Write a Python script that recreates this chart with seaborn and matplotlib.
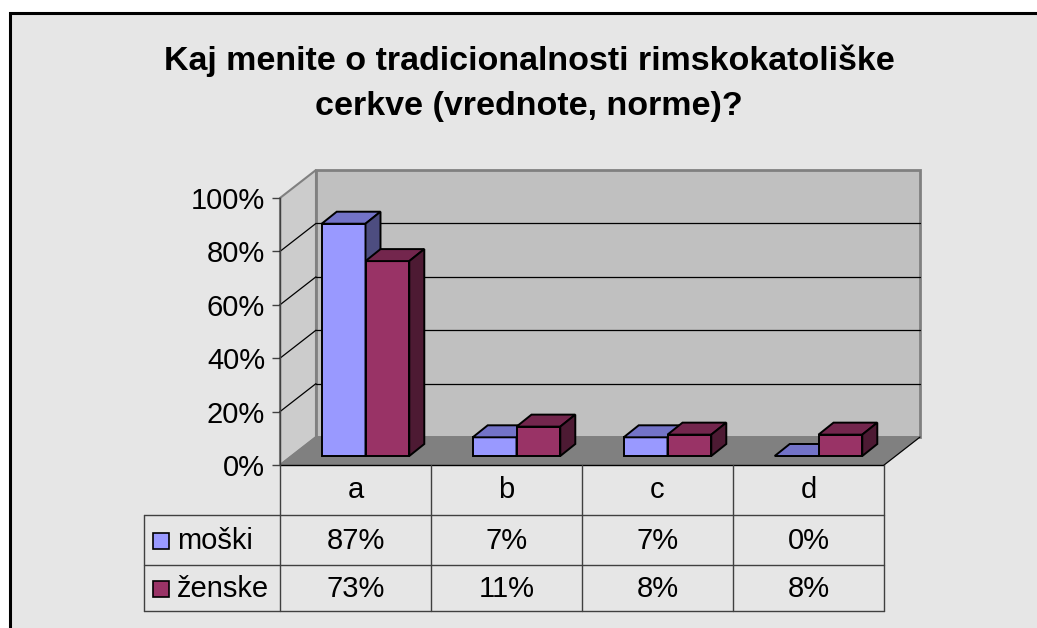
import numpy as np
import pandas as pd
import matplotlib
matplotlib.use("Agg")
import matplotlib.pyplot as plt
from matplotlib.patches import Rectangle, Polygon
import seaborn as sns

# podatki
odgovori = ["a", "b", "c", "d"]
spoli = ["moški", "ženske"]
moski = [87, 7, 7, 0]
zenske = [73, 11, 8, 8]

naslov1 = "Kaj menite o tradicionalnosti rimskokatoliške"
naslov2 = "cerkve (vrednote, norme)?"

# barve (sprednja, zgornja, stranska ploskev)
barve_spredaj = ["#9999ff", "#993366"]
barve_zgoraj = ["#7373c8", "#73264d"]
barve_stran = ["#4d4d80", "#4d1a33"]

df = pd.DataFrame({
    "odgovor": odgovori * 2,
    "spol": [spoli[0]] * 4 + [spoli[1]] * 4,
    "delez": [v / 100 for v in moski] + [v / 100 for v in zenske],
})

sns.set_style("white")
plt.rcParams["font.family"] = ["Liberation Sans", "DejaVu Sans"]
plt.rcParams["text.color"] = "black"
plt.rcParams["ytick.labelcolor"] = "black"

W, H = 1037, 628
fs = 21  # velikost besedila v tabeli in na osi
fig = plt.figure(figsize=(W / 100, H / 100), dpi=100, facecolor="white")

# okvir grafikona
fig.patches.append(Rectangle((10 / W, -0.1), 1.2, (H - 13) / H + 0.1,
                             transform=fig.transFigure, facecolor="#e6e6e6",
                             edgecolor="black", linewidth=2.2, zorder=-5))

fig.text(529 / W, 1 - 70 / H, naslov1, ha="center", va="baseline",
         fontsize=24.5, fontweight="bold", color="black")
fig.text(529 / W, 1 - 115 / H, naslov2, ha="center", va="baseline",
         fontsize=24.5, fontweight="bold", color="black")

# os v sprednji ravnini
ax_l, ax_r, ax_b, ax_t = 280, 884, 465, 198
ax = fig.add_axes([ax_l / W, 1 - ax_b / H, (ax_r - ax_l) / W, (ax_b - ax_t) / H])
ax.set_facecolor("none")

ux = 4 / (ax_r - ax_l)   # podatkovne enote na piksel
uy = 1 / (ax_b - ax_t)

sns.barplot(data=df, x="odgovor", y="delez", hue="spol", hue_order=spoli,
            palette=barve_spredaj, width=0.58, edgecolor="black",
            linewidth=1.4, saturation=1, legend=False, ax=ax)

ax.set_xlim(-0.5, 3.5)
ax.set_ylim(0, 1)

# globina
Dx, Dy = 36 * ux, 28 * uy        # cela globina
fdx, fdy = 10 * ux, 9 * uy       # sprednja stran stolpcev
ddx, ddy = 15 * ux, 12 * uy      # globina stolpcev

# stene in tla
x0, x1 = -0.5, 3.5
ax.add_patch(Polygon([(x0, 0), (x0 + Dx, Dy), (x0 + Dx, 1 + Dy), (x0, 1)],
                     closed=True, facecolor="#cccccc", edgecolor="#808080",
                     linewidth=1.5, clip_on=False, zorder=0.5))
ax.add_patch(Polygon([(x0 + Dx, Dy), (x1 + Dx, Dy), (x1 + Dx, 1 + Dy), (x0 + Dx, 1 + Dy)],
                     closed=True, facecolor="#c0c0c0", edgecolor="#808080",
                     linewidth=2, clip_on=False, zorder=0.5))
ax.add_patch(Polygon([(x0, 0), (x1, 0), (x1 + Dx, Dy), (x0 + Dx, Dy)],
                     closed=True, facecolor="#808080", edgecolor="#808080",
                     linewidth=1, clip_on=False, zorder=0.6))
ax.plot([x1, x1 + Dx], [0, Dy], color="black", lw=0.8, clip_on=False, zorder=0.7)

for t in [0.2, 0.4, 0.6, 0.8]:
    ax.plot([x0 + Dx, x1 + Dx], [t + Dy, t + Dy], color="black", lw=0.9,
            clip_on=False, zorder=0.7)
    ax.plot([x0, x0 + Dx], [t, t + Dy], color="black", lw=0.9,
            clip_on=False, zorder=0.7)

# 3D stolpci
for i, cont in enumerate(ax.containers):
    for p in cont:
        p.set_x(p.get_x() + fdx)
        p.set_y(p.get_y() + fdy)
        p.set_zorder(3 + i)
        p.set_clip_on(False)
        bx0, bx1 = p.get_x(), p.get_x() + p.get_width()
        by0, by1 = p.get_y(), p.get_y() + p.get_height()
        ax.add_patch(Polygon([(bx0, by1), (bx1, by1), (bx1 + ddx, by1 + ddy), (bx0 + ddx, by1 + ddy)],
                             closed=True, facecolor=barve_zgoraj[i], edgecolor="black",
                             linewidth=1.4, clip_on=False, zorder=3 + i))
        if p.get_height() > 0:
            ax.add_patch(Polygon([(bx1, by0), (bx1, by1), (bx1 + ddx, by1 + ddy), (bx1 + ddx, by0 + ddy)],
                                 closed=True, facecolor=barve_stran[i], edgecolor="black",
                                 linewidth=1.4, clip_on=False, zorder=3 + i))

# osi
for s in ["top", "right", "bottom"]:
    ax.spines[s].set_visible(False)
ax.spines["left"].set_color("#404040")
ax.spines["left"].set_linewidth(1)
ax.spines["left"].set_zorder(2)
ax.set_xticks([])
ax.set_yticks(np.arange(0, 1.01, 0.2))
ax.set_yticklabels([f"{int(round(v * 100))}%" for v in np.arange(0, 1.01, 0.2)])
ax.tick_params(axis="y", length=5.8, width=1, color="#404040", pad=5,
               labelsize=fs, labelcolor="black", left=True)
ax.set_xlabel("")
ax.set_ylabel("")

# tabela s podatki
def py(ypx):
    return (ax_b - ypx) * uy

lc = "#404040"
tx_l = x0 - (ax_l - 144) * ux
y_glava, y_r1, y_r2, y_dno = py(465), py(515), py(565), py(611)
ax.plot([x0, x1], [0, 0], color="black", lw=1, clip_on=False, zorder=2)
for k in range(5):
    ax.plot([x0 + k, x0 + k], [0, y_dno], color=lc, lw=1, clip_on=False, zorder=2)
for yy in [y_r1, y_r2, y_dno]:
    ax.plot([tx_l, x1], [yy, yy], color=lc, lw=1, clip_on=False, zorder=2)
ax.plot([tx_l, tx_l], [y_r1, y_dno], color=lc, lw=1, clip_on=False, zorder=2)

for k, o in enumerate(odgovori):
    ax.text(k, py(490), o, ha="center", va="center", fontsize=fs,
            color="black", clip_on=False)

vrstice = [moski, zenske]
sred = [py(541), py(589)]
for i, (ime, vals) in enumerate(zip(spoli, vrstice)):
    ax.add_patch(Rectangle((tx_l + 9 * ux, sred[i] - 8 * uy), 16 * ux, 16 * uy,
                           facecolor=barve_spredaj[i], edgecolor="black",
                           linewidth=1.2, clip_on=False, zorder=3))
    ax.text(tx_l + 33 * ux, sred[i], ime, ha="left", va="center",
            fontsize=fs, color="black", clip_on=False)
    for k, v in enumerate(vals):
        ax.text(k, sred[i], f"{v}%", ha="center", va="center",
                fontsize=fs, color="black", clip_on=False)

fig.savefig("out.png", dpi=100, facecolor="white")
